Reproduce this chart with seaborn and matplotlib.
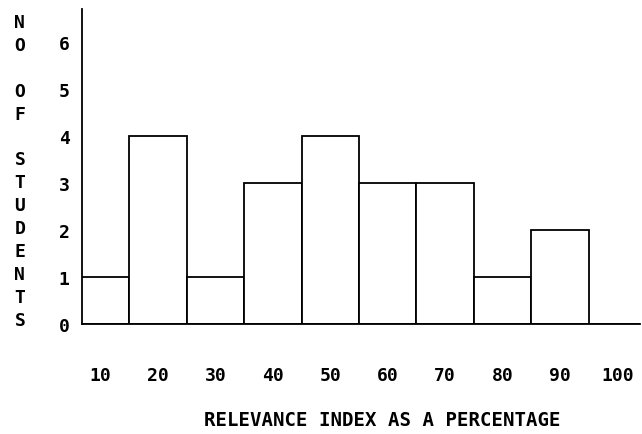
import matplotlib.pyplot as plt
import seaborn as sns
import pandas as pd

# relevance index (bin centres) and number of students
relevance = [10, 20, 30, 40, 50, 60, 70, 80, 90, 100]
students = [1, 4, 1, 3, 4, 3, 3, 1, 2, 0]
y_ticks = [0, 1, 2, 3, 4, 5, 6]

df = pd.DataFrame({"relevance": relevance, "students": students})

sns.set_style("white")
plt.rcParams['font.family'] = ['DejaVu Sans Mono']
plt.rcParams['font.weight'] = 'bold'
plt.rcParams['axes.labelweight'] = 'bold'
plt.rcParams['text.color'] = 'black'
plt.rcParams['xtick.color'] = 'black'
plt.rcParams['ytick.color'] = 'black'
plt.rcParams['axes.labelcolor'] = 'black'

fig = plt.figure(figsize=(6.42, 4.35), dpi=100)
ax = fig.add_axes([0.1277, 0.2529, 0.8693, 0.724])

sns.histplot(data=df, x="relevance", weights="students", binwidth=10, binrange=(5, 105),
             color="white", edgecolor="black", linewidth=1.3, alpha=1, ax=ax)

ax.set_xlim(6.8, 103.9)
ax.set_ylim(0, 6.7)
ax.set_xticks(relevance)
ax.set_xticklabels([str(v) for v in relevance], fontsize=13)
ax.set_yticks(y_ticks)
ax.set_yticklabels([str(v) for v in y_ticks], fontsize=13)
ax.tick_params(axis="x", length=0, pad=30)
ax.tick_params(axis="y", length=0, pad=9)
ax.set_ylabel("")
ax.set_xlabel("RELEVANCE INDEX AS A PERCENTAGE", fontsize=13.7)
ax.xaxis.set_label_coords(0.538, -0.272)

sns.despine(ax=ax)
for s in ["left", "bottom"]:
    ax.spines[s].set_color("black")
    ax.spines[s].set_linewidth(1.3)

fig.text(0.031, 0.968, "N\nO\n\nO\nF\n\nS\nT\nU\nD\nE\nN\nT\nS",
         fontsize=13, ha="center", va="top", linespacing=1.35)

fig.savefig("out.png", dpi=100)
